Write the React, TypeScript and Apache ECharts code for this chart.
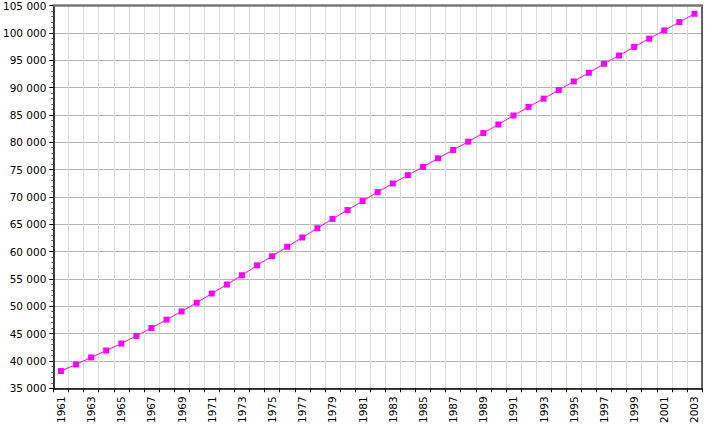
import React, { useEffect, useRef } from "react";
import * as echarts from "echarts";

const years: string[] = [];
for (let y = 1961; y <= 2003; y++) years.push(String(y));

const population: number[] = [
  38150, 39360, 40640, 41910, 43180, 44580, 46030, 47545, 49060, 50640,
  52330, 53970, 55670, 57485, 59150, 60880, 62575, 64270, 65970, 67605,
  69240, 70880, 72455, 73970, 75485, 77060, 78575, 80090, 81665, 83240,
  84880, 86455, 87970, 89545, 91120, 92700, 94335, 95850, 97425, 98940,
  100455, 101970, 103485,
];

const yMin = 35000;
const yMax = 105000;
const yStep = 5000;

const fmt = (v: number) => String(v).replace(/\B(?=(\d{3})+(?!\d))/g, " ");

export default function App() {
  const ref = useRef<HTMLDivElement>(null);
  useEffect(() => {
    if (!ref.current) return;
    const chart = echarts.init(ref.current, null, { renderer: "svg" });
    const font = "DejaVu Sans, Verdana, sans-serif";
    chart.setOption({
      animation: false,
      backgroundColor: "#ffffff",
      grid: { left: 51, right: 23, top: 5, bottom: 36, containLabel: false },
      xAxis: [
        {
          type: "category",
          data: years,
          boundaryGap: true,
          axisLine: { lineStyle: { color: "#000", width: 1.5 } },
          axisTick: { show: true, interval: 0, length: 4, lineStyle: { color: "#000" } },
          axisLabel: {
            interval: 1,
            rotate: 90,
            fontFamily: font,
            fontSize: 10.5,
            color: "#000",
            margin: 8,
          },
          splitLine: { show: true, interval: 0, lineStyle: { color: "#dcdcdc", width: 1 } },
        },
        {
          type: "category",
          data: years,
          position: "top",
          boundaryGap: true,
          axisLine: { lineStyle: { color: "#777", width: 2.5 } },
          axisTick: { show: false },
          axisLabel: { show: false },
          splitLine: { show: false },
        },
      ],
      yAxis: [
        {
          type: "value",
          min: yMin,
          max: yMax,
          interval: yStep,
          axisLine: { show: true, lineStyle: { color: "#000", width: 1.5 } },
          axisTick: { show: true, length: 4, lineStyle: { color: "#000" } },
          minorTick: { show: true, splitNumber: 5, length: 2, lineStyle: { color: "#555" } },
          axisLabel: {
            formatter: fmt,
            fontFamily: font,
            fontSize: 10.5,
            color: "#000",
            margin: 7,
          },
          splitLine: { show: true, lineStyle: { color: "#b3b3b3", width: 1 } },
        },
        {
          type: "value",
          position: "right",
          min: yMin,
          max: yMax,
          interval: yStep,
          axisLine: { show: true, lineStyle: { color: "#333", width: 1.5 } },
          axisTick: { show: false },
          axisLabel: { show: false },
          splitLine: { show: false },
        },
      ],
      series: [
        {
          type: "line",
          data: population,
          xAxisIndex: 0,
          yAxisIndex: 0,
          symbol: "rect",
          symbolSize: 6,
          itemStyle: { color: "#ff00ff" },
          lineStyle: { color: "#ff00ff", width: 1 },
        },
      ],
    });
    return () => chart.dispose();
  }, []);
  return (
    <div
      ref={ref}
      style={{ position: "fixed", left: 0, top: 0, width: 725, height: 426 }}
    />
  );
}
